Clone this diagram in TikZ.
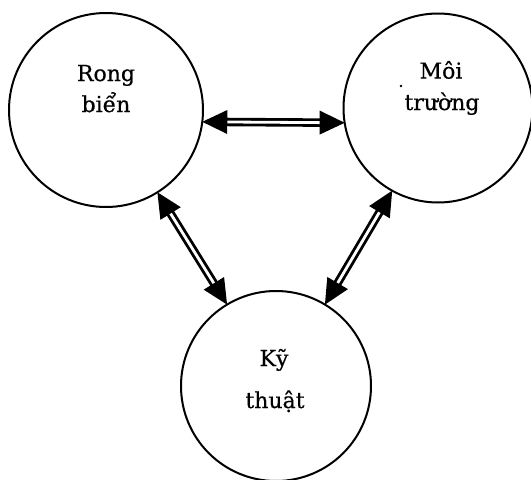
\documentclass[tikz,border=0pt]{standalone}
\usepackage{fontspec}
\setmainfont{DejaVu Serif}[FakeBold=0.6]
\usetikzlibrary{calc}
\tikzset{
  ring/.style={draw, circle, line width=2pt, inner sep=0pt, outer sep=0pt},
  txt/.style={font=\fontsize{22}{26}\selectfont, inner sep=0pt, anchor=base},
  shaftout/.style={line width=8.5pt, black},
  shaftin/.style={line width=2.8pt, white},
}
\newcommand{\dblarr}[2]{%
  \coordinate (h1) at ($(#1)!25pt!(#2)$);
  \coordinate (h2) at ($(#2)!25pt!(#1)$);
  \draw[shaftout] ($(#1)!22pt!(#2)$) -- ($(#2)!22pt!(#1)$);
  \draw[shaftin] ($(#1)!20pt!(#2)$) -- ($(#2)!20pt!(#1)$);
  \fill (#1) -- ($(h1)!12pt!90:(#2)$) -- ($(h1)!12pt!-90:(#2)$) -- cycle;
  \fill (#2) -- ($(h2)!12pt!90:(#1)$) -- ($(h2)!12pt!-90:(#1)$) -- cycle;
}
\begin{document}
\begin{tikzpicture}[x=1pt,y=-1pt]
\useasboundingbox[fill=white] (0,0) rectangle (531,480);
\node[ring, minimum size=194pt] (L) at (106,110) {};
\node[ring, minimum size=189pt] (R) at (438,108) {};
\node[ring, minimum size=190pt] (B) at (276,386) {};
\node[txt] (t1) at (106,81) {Rong};
\node[txt] (t2) at (106,112) {biển};
\node[txt] (t3) at (441,78.6) {Môi};
\node[txt] (t4) at (442,110) {trường};
\node[txt] (t5) at (274,366) {Kỹ};
\node[txt] (t6) at (275,408) {thuật};
\fill (401,86) circle (1.4pt);
\coordinate (a1) at (L.-7.7);
\coordinate (a2) at (R.189.1);
\coordinate (b1) at (L.-58.9);
\coordinate (b2) at (B.121.5);
\coordinate (c1) at (R.-119.4);
\coordinate (c2) at (B.59.6);
\dblarr{a1}{a2}
\dblarr{b1}{b2}
\dblarr{c1}{c2}
\end{tikzpicture}
\end{document}
